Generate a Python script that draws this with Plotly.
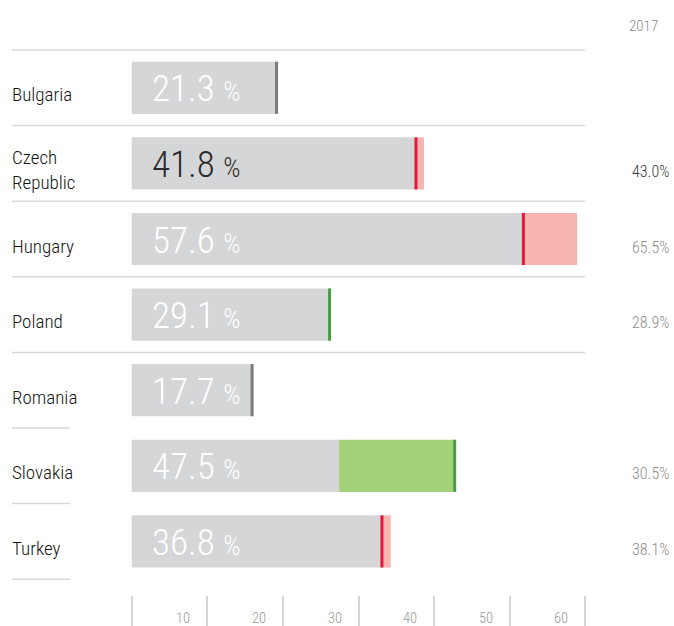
import plotly.graph_objects as go

countries = ["Bulgaria", "Czech<br>Republic", "Hungary", "Poland", "Romania", "Slovakia", "Turkey"]
current = [21.3, 41.8, 57.6, 29.1, 17.7, 47.5, 36.8]
previous = [None, 43.0, 65.5, 28.9, None, 30.5, 38.1]
prev_label = "2017"
tick_vals = [0, 10, 20, 30, 40, 50, 60]
tick_text = ["", "10", "20", "30", "40", "50", "60"]
highlight = "Czech<br>Republic"

FONT = "Roboto Condensed, Liberation Sans Narrow, Arial Narrow, DejaVu Sans Condensed, sans-serif"
GRAY = "#d5d6d8"
PINK = "#f7b5b1"
RED = "#e6173f"
GREEN_FILL = "#a3d177"
GREEN = "#4a9c46"
DARK = "#7a7a7a"

W, H = 674, 626
PX_PER_UNIT = 6.80
ZERO_PX = 131.7
ROW_PX = 75.6
TOP_PX = 50.0
AX2_PX_PER_UNIT = 7.563
BAR_W = 0.69

n = len(countries)
idx = list(range(n))

gray_end, seg_base, seg_len, seg_col, mk_col = [], [], [], [], []
for c, p in zip(current, previous):
    if p is None:
        gray_end.append(c); seg_base.append(c); seg_len.append(0); seg_col.append(GRAY); mk_col.append(DARK)
    elif c >= p:
        gray_end.append(p); seg_base.append(p); seg_len.append(c - p); seg_col.append(GREEN_FILL); mk_col.append(GREEN)
    else:
        gray_end.append(c); seg_base.append(c); seg_len.append(p - c); seg_col.append(PINK); mk_col.append(RED)

fig = go.Figure()
fig.add_trace(go.Bar(x=gray_end, y=idx, orientation="h", base=0, width=BAR_W,
                     marker=dict(color=GRAY, line=dict(width=0)), hoverinfo="skip"))
fig.add_trace(go.Bar(x=seg_len, y=idx, orientation="h", base=seg_base, width=BAR_W,
                     marker=dict(color=seg_col, line=dict(width=0)), hoverinfo="skip"))
# line-ns symbol length is 1.4 * size
fig.add_trace(go.Scatter(x=current, y=idx, mode="markers",
                         marker=dict(symbol="line-ns", size=BAR_W * ROW_PX / 1.4, color=mk_col,
                                     line=dict(width=3, color=mk_col)),
                         hoverinfo="skip"))
# helper trace to bind the secondary (tick) axis
fig.add_trace(go.Scatter(x=tick_vals, y=[n] * len(tick_vals), xaxis="x2", yaxis="y",
                         mode="markers", marker=dict(opacity=0), hoverinfo="skip"))

x_range = [-ZERO_PX / PX_PER_UNIT, (W - ZERO_PX) / PX_PER_UNIT]
x2_range = [-ZERO_PX / AX2_PX_PER_UNIT, (W - ZERO_PX) / AX2_PX_PER_UNIT]
y_top = -0.5 - TOP_PX / ROW_PX
y_bot = y_top + H / ROW_PX

annotations = []
shapes = []
for i, (name, c, p) in enumerate(zip(countries, current, previous)):
    hl = name == highlight
    annotations.append(dict(x=10 / W, xref="paper", y=i, yref="y", text=name, showarrow=False,
                            xanchor="left", yanchor="middle", align="left", yshift=-7,
                            font=dict(family=FONT, size=19, color="#141414", weight=300)))
    annotations.append(dict(x=0, xref="x", y=i, yref="y", xanchor="left", yanchor="middle",
                            xshift=18, yshift=-1, showarrow=False,
                            text=f"{c:.1f} <span style='font-size:27px'>%</span>",
                            font=dict(family=FONT, size=37, weight=300,
                                      color="#2b2b2b" if hl else "#ffffff")))
    if p is not None:
        annotations.append(dict(x=671 / W, xref="paper", y=i, yref="y", xanchor="right", yanchor="middle",
                                yshift=-8, showarrow=False, text=f"{p:.1f}%",
                                font=dict(family=FONT, size=16, weight=300,
                                          color="#3a3a3a" if hl else "#8c8c8c")))

annotations.append(dict(x=660 / W, xref="paper", y=y_top + 26 / ROW_PX, yref="y", xanchor="right",
                        yanchor="middle", showarrow=False, text=prev_label,
                        font=dict(family=FONT, size=15, weight=300, color="#8c8c8c")))
for t, lab in zip(tick_vals, tick_text):
    if lab:
        annotations.append(dict(x=t, xref="x2", y=n, yref="y", xanchor="right", yanchor="middle",
                                xshift=-15, yshift=-1, showarrow=False, text=lab,
                                font=dict(family=FONT, size=14.5, weight=300, color="#999999")))

full_sep = [True, True, True, True, True, False, False, False]
for k in range(n + 1):
    shapes.append(dict(type="line", xref="paper", yref="y", x0=12 / W,
                       x1=(585 if full_sep[k] else 70) / W, y0=k - 0.5, y1=k - 0.5,
                       line=dict(color="#d9d9d9", width=1.5), layer="below"))

fig.update_layout(
    width=W, height=H, margin=dict(l=0, r=0, t=0, b=0),
    paper_bgcolor="white", plot_bgcolor="white", showlegend=False, barmode="overlay",
    xaxis=dict(range=x_range, visible=False, fixedrange=True),
    xaxis2=dict(range=x2_range, overlaying="x", anchor="free", position=0, side="bottom",
                tickvals=tick_vals, ticks="inside", ticklen=30, tickwidth=1.5, tickcolor="#d6d6d6",
                showticklabels=False, showgrid=False, zeroline=False, showline=False, fixedrange=True),
    yaxis=dict(range=[y_bot, y_top], visible=False, fixedrange=True),
    annotations=annotations, shapes=shapes,
)

fig.write_html("out.html", config={"displayModeBar": False},
               post_script="document.body.style.margin='0';document.body.style.overflow='hidden';")
